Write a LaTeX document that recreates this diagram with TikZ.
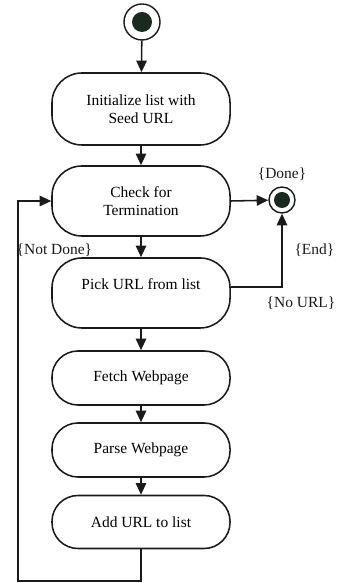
\documentclass[tikz,border=0pt]{standalone}
\usepackage{fontspec}
\setmainfont{Liberation Serif}
\usepackage{tikz}
\usetikzlibrary{arrows.meta,positioning}
\definecolor{linec}{HTML}{1A1A1A}
\definecolor{dotc}{HTML}{1B2A1E}
\tikzset{
  >={Triangle[length=2.9mm,width=2.6mm]},
  act/.style={draw=linec,line width=1.1pt,rounded corners=7.5mm,fill=white,minimum width=4.45cm,align=center,font=\fontsize{11}{13}\selectfont},
  sact/.style={act,rounded corners=6.5mm},
  ring/.style={draw=linec,line width=1pt,circle,fill=white,inner sep=0pt},
  dot/.style={circle,fill=dotc,inner sep=0pt},
  flow/.style={->,line width=1.1pt,draw=linec},
  guard/.style={font=\fontsize{11}{13}\selectfont,text=linec,inner sep=1pt},
}
\begin{document}
\begin{tikzpicture}[x=0.025cm,y=0.025cm]
  \useasboundingbox (0,0) rectangle (336,583);
  % start and end states
  \node[ring,minimum size=0.9cm] (start) at (142,561) {};
  \node[dot,minimum size=0.5cm] at (start) {};
  \node[ring,minimum size=0.65cm] (stop) at (282,383) {};
  \node[dot,minimum size=0.4cm] at (stop) {};
  % activities
  \node[act,minimum height=1.8cm] (init) at (141,474) {Initialize list with\\Seed URL};
  \node[act,minimum height=1.75cm] (check) at (141,382) {Check for\\Termination};
  \node[act,minimum height=1.75cm] (pick) at (141,290) {Pick URL from list\\\mbox{}};
  \node[sact,minimum height=1.35cm] (fetch) at (141,205) {Fetch Webpage};
  \node[sact,minimum height=1.35cm] (parse) at (141,133) {Parse Webpage};
  \node[sact,minimum height=1.325cm] (addurl) at (141,61) {Add URL to list};
  \coordinate (loopc) at (18,2);
  % transitions
  \draw[flow] (start) -- (init);
  \draw[flow] (init) -- (check);
  \draw[flow] (check) -- (pick);
  \draw[flow] (pick) -- (fetch);
  \draw[flow] (fetch) -- (parse);
  \draw[flow] (parse) -- (addurl);
  \draw[flow] (check.east) -- (stop);
  \draw[flow] ([yshift=0.15cm]pick.east) -| (stop);
  \draw[flow] (addurl.south) |- (loopc) |- (check.west);
  % guards
  \node[guard] (gdone) at (282,409) {\{Done\}};
  \node[guard,anchor=west] (gnot) at (15,333) {\{Not Done\}};
  \node[guard,anchor=east] (gend) at (336,333) {\{End\}};
  \node[guard] (gnourl) at (301,280) {\{No URL\}};
\end{tikzpicture}
\end{document}
